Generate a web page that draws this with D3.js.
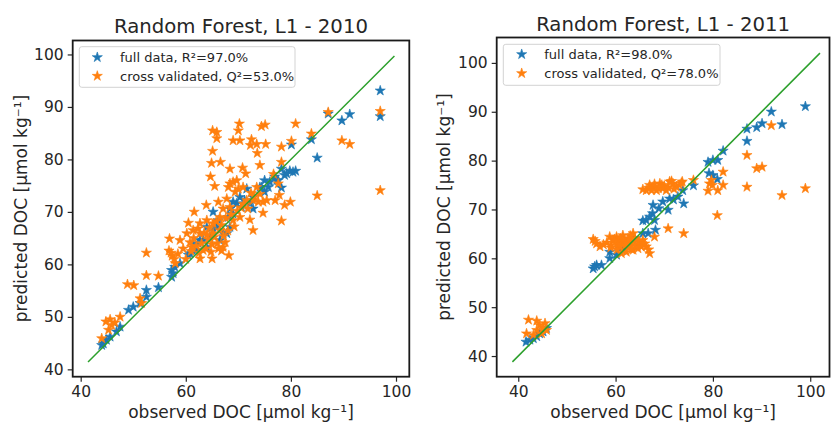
<!DOCTYPE html>
<html>
<head>
<meta charset="utf-8">
<script src="https://cdn.jsdelivr.net/npm/d3@7"></script>
<style>
  body { margin: 0; background: #fff; }
  svg { display: block; }
  text { font-family: "DejaVu Sans", sans-serif; fill: #262626; }
</style>
</head>
<body>
<svg id="chart" width="831" height="423"></svg>
<script>
// ---- Data ----
const titles = ["Random Forest, L1 - 2010", "Random Forest, L1 - 2011"];
const xLabel = "observed DOC [μmol kg⁻¹]";
const yLabel = "predicted DOC [μmol kg⁻¹]";
const tickValues = [40, 60, 80, 100];
const yTickValues = [40, 50, 60, 70, 80, 90, 100];
const legendFull = ["full data, R²=97.0%", "full data, R²=98.0%"];
const legendCv = ["cross validated, Q²=53.0%", "cross validated, Q²=78.0%"];

// 2010 – full data
const full2010 = [
  [97.0,93.1],[97.0,88.2],[91.2,88.6],[89.7,87.4],[87.1,88.7],[85.0,80.3],[83.9,83.8],[80.1,82.8],
  [80.9,77.8],[79.8,77.8],[78.8,77.0],[78.2,78.2],[78.2,74.6],[77.3,76.0],[76.0,75.7],[75.0,76.0],
  [75.0,73.8],[74.1,74.7],[72.8,70.6],[71.6,74.4],[70.3,72.8],[69.7,71.6],[69.0,71.9],[68.4,70.6],
  [68.1,69.0],[67.1,65.9],[66.2,68.4],[65.2,70.0],[65.2,66.5],[64.0,67.1],[62.7,64.6],[61.4,63.7],
  [60.5,61.8],[58.9,60.2],[57.9,59.5],[57.3,58.9],[57.3,57.6],[57.6,58.3],[54.8,55.6],[52.5,55.1],
  [52.5,53.8],[51.3,52.6],[50.0,51.9],[49.1,51.3],[47.5,48.1],[46.8,47.2],[45.6,46.2],[44.9,45.6],
  [44.0,44.6],[44.3,44.9],[72.8,72.8],[72.2,71.6],[71.2,72.2],[70.6,70.9],[68.4,67.1],[67.8,65.9],
  [66.5,64.6],[64.6,65.2],[63.3,64.6],[62.1,62.7],[60.8,62.1],[62.4,64.0],[64.0,63.3],[65.9,67.1],
  [69.0,69.6],[74.4,74.7],[75.7,74.7],[76.9,76.7],[77.6,76.0],[79.2,77.3],[80.4,77.6]
];
// 2010 – cross validated
const cv2010 = [
  [97.0,89.2],[97.0,74.1],[91.2,82.9],[89.7,83.6],[87.1,89.0],[85.0,73.1],[83.9,84.9],[80.9,86.8],
  [80.1,83.5],[79.9,71.9],[78.8,71.3],[78.2,82.4],[78.2,79.5],[78.2,68.3],[77.8,73.2],[77.6,75.4],
  [77.0,72.2],[76.7,77.2],[75.2,82.9],[75.1,86.6],[74.4,86.3],[74.7,69.8],[74.1,78.9],[73.6,81.2],
  [73.5,82.9],[72.5,83.8],[72.3,82.7],[72.8,66.5],[72.2,68.5],[71.4,77.3],[70.8,78.4],[70.3,83.6],
  [70.2,86.8],[70.0,85.5],[69.0,83.6],[68.4,78.2],[68.4,75.4],[69.0,75.7],[69.7,76.0],[70.0,74.4],
  [66.6,79.5],[65.9,85.2],[65.1,85.5],[65.9,84.0],[65.1,81.6],[64.9,79.3],[64.7,76.7],[65.5,74.9],
  [68.1,74.7],[67.8,72.5],[66.2,71.9],[63.9,71.3],[61.6,70.0],[60.5,67.9],[58.9,64.6],[56.9,64.9],
  [56.8,62.6],[57.4,61.6],[58.0,60.2],[62.7,61.1],[65.0,61.1],[66.2,63.0],[68.2,61.7],[67.1,63.3],
  [63.3,62.7],[61.1,63.3],[60.2,65.9],[61.4,66.5],[62.7,67.8],[64.0,68.4],[65.2,67.8],[66.5,69.0],
  [62.7,65.9],[64.0,65.6],[65.2,65.9],[66.5,66.5],[69.0,68.4],[70.3,69.0],[71.6,72.2],[72.8,72.2],
  [73.8,71.9],[74.7,71.9],[75.4,72.2],[74.1,73.4],[73.5,74.7],[70.9,74.7],[69.4,73.8],[67.1,70.6],
  [68.4,70.9],[52.5,62.2],[54.8,57.8],[52.5,57.9],[50.1,56.0],[48.9,56.2],[51.3,53.5],[51.6,52.6],
  [47.5,50.0],[46.5,48.9],[45.6,49.5],[44.8,49.1],[45.3,47.5],[44.0,45.9],[45.9,48.4],
  [60.8,64.2],[61.5,65.0],[62.0,63.5],[62.3,66.8],[63.0,64.0],[63.5,66.0],[63.8,63.0],[64.3,64.8],
  [64.5,66.9],[65.0,63.8],[65.4,65.2],[65.8,68.2],[66.0,64.0],[66.8,67.5],[67.2,65.4],[67.6,68.8],
  [68.0,66.4],[68.6,69.5],[69.2,67.2],[69.8,70.2],[70.5,70.8],[71.0,71.5],[71.8,70.6],[72.4,73.6],
  [73.0,73.0],[61.0,62.5],[62.5,62.2],[64.8,62.4],[66.8,62.6],[67.5,64.2],[59.5,63.0],[60.0,61.0],
  [58.5,62.0],[57.2,62.2],[57.8,61.0]
];
// 2011 – full data
const full2011 = [
  [99.0,91.1],[94.2,87.4],[92.0,90.0],[90.1,87.6],[89.0,86.8],[87.0,86.5],[87.0,84.0],[82.1,82.0],
  [81.0,80.1],[80.0,80.1],[79.0,79.7],[79.2,77.4],[80.0,77.0],[80.9,76.2],[76.0,74.9],[74.0,71.2],
  [73.8,73.9],[72.8,72.6],[71.9,72.0],[71.1,72.2],[70.8,69.9],[69.7,71.6],[68.9,70.2],[67.7,70.9],
  [67.6,69.2],[67.0,68.5],[66.3,67.8],[65.6,67.7],[68.0,67.8],[68.2,65.8],[66.7,65.1],[65.6,65.1],
  [63.9,64.1],[61.5,61.7],[60.2,60.7],[58.8,61.3],[58.8,60.0],[57.1,58.6],[56.1,58.6],[55.4,57.9],
  [55.7,58.3],[60.9,62.0],[62.2,62.7],[63.6,63.7],[45.8,45.7],[45.1,45.0],[43.8,44.0],[42.4,43.3],
  [41.6,42.9],[43.1,43.6],[44.4,44.6]
];
// 2011 – cross validated
const cv2011 = [
  [99.0,74.3],[94.2,72.9],[92.0,87.2],[90.1,78.7],[89.0,78.4],[87.0,81.1],[87.0,74.6],[82.1,77.7],
  [82.1,75.0],[81.0,73.9],[80.9,68.8],[79.7,76.0],[79.3,75.3],[79.0,73.8],[79.9,75.0],[76.0,76.0],
  [74.0,65.1],[70.8,66.1],[73.7,75.7],[72.5,74.6],[71.1,75.7],[70.4,73.9],[69.1,75.3],[67.7,74.6],
  [66.3,73.9],[65.6,74.1],[67.0,75.0],[68.4,73.9],[69.7,74.3],[71.8,75.3],[73.1,75.0],[68.0,64.4],
  [67.0,61.0],[66.3,62.4],[65.6,63.7],[64.6,62.0],[63.6,61.7],[62.2,61.3],[60.9,62.4],[59.5,63.7],
  [58.8,64.4],[60.2,64.4],[61.5,64.7],[62.6,64.1],[63.6,63.4],[65.0,62.7],[60.9,63.4],[62.0,62.7],
  [59.1,62.7],[55.4,63.9],[56.1,63.0],[56.8,62.4],[60.2,63.0],[62.9,62.4],[63.6,65.1],[42.1,47.4],
  [41.7,44.6],[43.8,47.2],[44.4,46.3],[45.5,46.7],[45.8,45.3],[44.8,44.6],[43.8,45.3],[43.1,44.3],
  [45.1,45.7],
  [58.2,63.2],[59.0,62.2],[59.8,63.9],[60.5,62.9],[61.0,64.0],[61.8,63.6],[62.4,63.0],[63.0,64.6],
  [63.3,61.8],[64.2,62.6],[64.8,63.5],[65.3,62.4],[66.0,63.0],[66.8,61.8],[60.3,61.8],[61.2,61.0],
  [62.8,63.8],[57.5,62.8],[55.8,63.5],[64.0,64.0],
  [66.8,74.4],[67.4,73.9],[68.0,75.2],[68.8,74.3],[69.5,75.0],[70.0,74.8],[70.8,74.5],[71.5,75.8],
  [72.0,74.2],[73.5,75.4]
];
// 1:1 reference line endpoints
const refLine2010 = [41.4, 99.7];
const refLine2011 = [38.8, 102.0];
const xDomains = [[38.48, 102.53], [35.57, 103.96]];
const yDomains = [[38.6, 102.66], [35.77, 105.2]];

// ---- Layout ----
const panels = [
  { box: {l: 72.7, r: 409.3, t: 40.5, b: 376.7}, full: full2010, cv: cv2010, ref: refLine2010,
    titleY: 33, yLabX: 27, legend: {x: 79.3, y: 46.7, w: 215.7, h: 40.6, mx: 97.3, tx: 120, r1: 57.3, r2: 76} },
  { box: {l: 496.7, r: 829.5, t: 37.5, b: 376.7}, full: full2011, cv: cv2011, ref: refLine2011,
    titleY: 30.5, yLabX: 450, legend: {x: 503.3, y: 44.3, w: 216.7, h: 41, mx: 521.7, tx: 544.3, r1: 54.3, r2: 73.3} }
];
const colors = { full: "#1f77b4", cv: "#ff7f0e", line: "#2ca02c" };
const svg = d3.select("#chart");
const star = d3.symbol().type(d3.symbolStar).size(32);

panels.forEach((p, i) => {
  const b = p.box;
  const x = d3.scaleLinear().domain(xDomains[i]).range([b.l, b.r]);
  const y = d3.scaleLinear().domain(yDomains[i]).range([b.b, b.t]);
  const g = svg.append("g");

  // axes
  const xAxis = g.append("g").attr("transform", `translate(0,${b.b})`)
    .call(d3.axisBottom(x).tickValues(tickValues).tickSize(5).tickPadding(4).tickFormat(d3.format("d")));
  const yAxis = g.append("g").attr("transform", `translate(${b.l},0)`)
    .call(d3.axisLeft(y).tickValues(yTickValues).tickSize(5).tickPadding(4).tickFormat(d3.format("d")));
  [xAxis, yAxis].forEach(a => {
    a.select(".domain").remove();
    a.selectAll(".tick line").attr("stroke", "#262626").attr("stroke-width", 1.2);
    a.selectAll(".tick text").style("font-size", "15.5px").attr("fill", "#262626")
      .style("font-family", '"DejaVu Sans", sans-serif');
  });

  // points
  const drawPts = (data, col) => g.append("g").selectAll("path").data(data).enter().append("path")
    .attr("d", star)
    .attr("transform", d => `translate(${x(d[0])},${y(d[1])})`)
    .attr("fill", col).attr("stroke", col).attr("stroke-width", 0.6);
  drawPts(p.full, colors.full);
  drawPts(p.cv, colors.cv);

  // 1:1 line
  g.append("line")
    .attr("x1", x(p.ref[0])).attr("y1", y(p.ref[0]))
    .attr("x2", x(p.ref[1])).attr("y2", y(p.ref[1]))
    .attr("stroke", colors.line).attr("stroke-width", 1.5);

  // frame
  g.append("rect").attr("x", b.l).attr("y", b.t).attr("width", b.r - b.l).attr("height", b.b - b.t)
    .attr("fill", "none").attr("stroke", "#1a1a1a").attr("stroke-width", 1.8);

  // legend
  const L = p.legend;
  g.append("rect").attr("x", L.x).attr("y", L.y).attr("width", L.w).attr("height", L.h)
    .attr("rx", 2.5).attr("fill", "#fff").attr("fill-opacity", 0.85)
    .attr("stroke", "#d3d3d3").attr("stroke-width", 1);
  [[L.r1, colors.full, legendFull[i]], [L.r2, colors.cv, legendCv[i]]].forEach(([ry, col, txt]) => {
    g.append("path").attr("d", star).attr("transform", `translate(${L.mx},${ry})`)
      .attr("fill", col).attr("stroke", col).attr("stroke-width", 0.6);
    g.append("text").attr("x", L.tx).attr("y", ry).attr("dy", "0.36em")
      .style("font-size", "13px").text(txt);
  });

  // title
  g.append("text").attr("x", (b.l + b.r) / 2).attr("y", p.titleY).attr("text-anchor", "middle")
    .style("font-size", "19.7px").text(titles[i]);
  // axis labels
  g.append("text").attr("x", (b.l + b.r) / 2).attr("y", 418).attr("text-anchor", "middle")
    .style("font-size", "17px").text(xLabel);
  g.append("text").attr("transform", `translate(${p.yLabX},${(b.t + b.b) / 2}) rotate(-90)`)
    .attr("text-anchor", "middle").style("font-size", "17px").text(yLabel);
});
</script>
</body>
</html>
